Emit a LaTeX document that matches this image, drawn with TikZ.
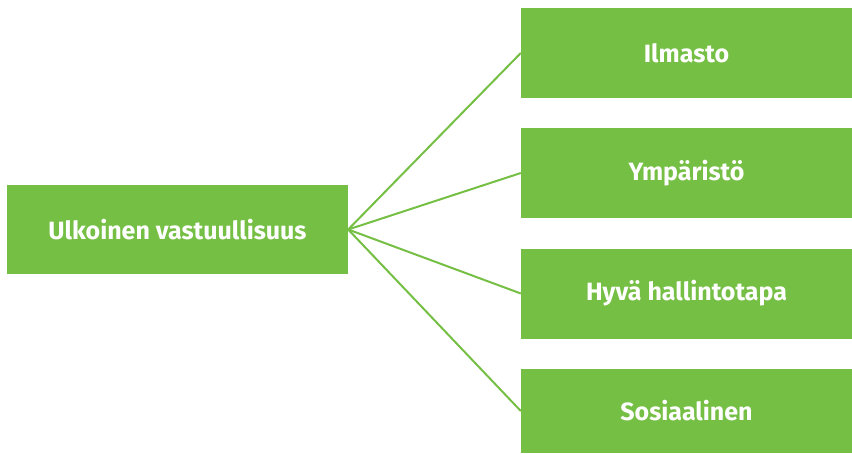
\documentclass[tikz,border=0pt]{standalone}
\usepackage{fontspec}
\setmainfont{Fira Sans}
\definecolor{leaf}{HTML}{75BF44}
\begin{document}
\begin{tikzpicture}[x=1pt,y=-1pt,
  box/.style={fill=leaf,draw=none,inner sep=0pt,font=\bfseries\fontsize{25}{30}\selectfont,text=white},
  link/.style={draw=leaf,line width=2pt}]
\useasboundingbox (0,0) rectangle (852,453);
\node[box,minimum width=341pt,minimum height=89pt] (root) at (177.5,229.5) {Ulkoinen vastuullisuus};
\node[box,minimum width=331pt,minimum height=90pt] (a) at (686.5,53) {Ilmasto};
\node[box,minimum width=331pt,minimum height=90pt] (b) at (686.5,173) {Ympäristö};
\node[box,minimum width=331pt,minimum height=90pt] (c) at (686.5,293.5) {Hyvä hallintotapa};
\node[box,minimum width=331pt,minimum height=84pt] (d) at (686.5,411) {Sosiaalinen};
\draw[link] (root.east) -- (a.west);
\draw[link] (root.east) -- (b.west);
\draw[link] (root.east) -- (c.west);
\draw[link] (root.east) -- (d.west);
\end{tikzpicture}
\end{document}
